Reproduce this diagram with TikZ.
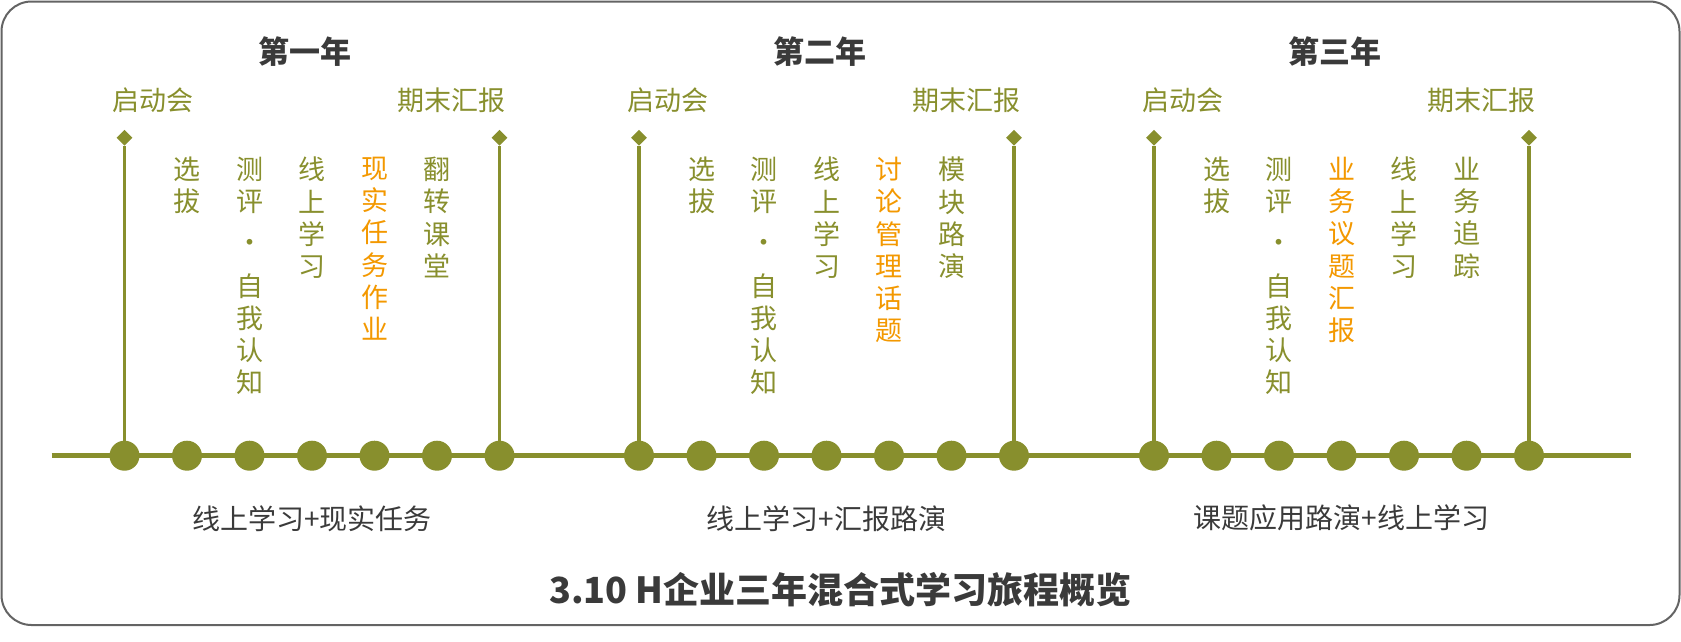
\documentclass[tikz,border=0pt]{standalone}
\usepackage{fontspec}
\setmainfont{Noto Sans CJK SC}
\usepackage{tikz}
\usetikzlibrary{shapes.geometric}
\definecolor{olive1}{RGB}{136,143,45}
\definecolor{orange1}{RGB}{243,152,0}
\definecolor{gray1}{RGB}{58,58,58}
\definecolor{gray2}{RGB}{100,100,100}
\tikzset{
  dot/.style={circle, fill=olive1, inner sep=0pt, minimum size=30pt},
  diam/.style={diamond, fill=olive1, inner sep=0pt, minimum size=16pt},
  stem/.style={olive1, line width=3.5pt},
  milestone/.style={text=olive1, inner sep=0pt, font=\fontsize{27}{32}\selectfont},
  item/.style={text=olive1, align=center, anchor=north, inner sep=0pt, font=\fontsize{27}{32.2}\selectfont},
  task/.style={item, text=orange1},
  year/.style={text=gray1, inner sep=0pt, font=\bfseries\fontsize{31}{36}\selectfont},
  phase/.style={text=gray1, inner sep=0pt, font=\fontsize{28}{32}\selectfont},
  headline/.style={text=gray1, inner sep=0pt, font=\bfseries\fontsize{36}{40}\selectfont}
}
\begin{document}
\begin{tikzpicture}[x=1pt, y=-1pt]
\useasboundingbox (0,0) rectangle (1681,641);
\draw[gray2, line width=2pt, rounded corners=30pt] (1.5,1.5) rectangle (1679.5,625);
% timeline
\coordinate (lineL) at (51.5,455.7);
\coordinate (lineR) at (1630.7,455.7);
\draw[olive1, line width=5pt] (lineL) -- (lineR);
\foreach \n/\x in {1/124.5, 2/639, 3/1154}
{
\foreach \i in {0,...,6}
  \node[dot] (p\n\i) at (\x+62.5*\i,455.7) {};
\node[diam] (ta\n) at (\x,137.7) {};
\node[diam] (tb\n) at (\x+375,137.7) {};
\draw[stem] (ta\n) -- (p\n0);
\draw[stem] (tb\n) -- (p\n6);
\node[milestone] (k\n) at (\x+28.5,100) {启动会};
\node[milestone] (r\n) at (\x+327,100) {期末汇报};
}
% years
\node[year] (y1) at (305,51.7) {第一年};
\node[year] (y2) at (819.5,51.7) {第二年};
\node[year] (y3) at (1334.5,51.7) {第三年};
% first year
\node[item] (c11) at (187,157) {选\\拔};
\node[item] (c12) at (249.5,157) {测\\评\\[9pt]·\\[11pt]自\\我\\认\\知};
\node[item] (c13) at (312,157) {线\\上\\学\\习};
\node[task] (c14) at (374.5,157) {现\\实\\任\\务\\作\\业};
\node[item] (c15) at (437,157) {翻\\转\\课\\堂};
% second year
\node[item] (c21) at (701.5,157) {选\\拔};
\node[item] (c22) at (764,157) {测\\评\\[9pt]·\\[11pt]自\\我\\认\\知};
\node[item] (c23) at (826.5,157) {线\\上\\学\\习};
\node[task] (c24) at (889,157) {讨\\论\\管\\理\\话\\题};
\node[item] (c25) at (951.5,157) {模\\块\\路\\演};
% third year
\node[item] (c31) at (1216.5,157) {选\\拔};
\node[item] (c32) at (1279,157) {测\\评\\[9pt]·\\[11pt]自\\我\\认\\知};
\node[task] (c33) at (1341.5,157) {业\\务\\议\\题\\汇\\报};
\node[item] (c34) at (1404,157) {线\\上\\学\\习};
\node[item] (c35) at (1466.5,157) {业\\务\\追\\踪};
% phases
\node[phase] (ph1) at (312,518.3) {线上学习+现实任务};
\node[phase] (ph2) at (826.5,518.3) {线上学习+汇报路演};
\node[phase] (ph3) at (1341.5,518.3) {课题应用路演+线上学习};
\node[headline] (cap) at (840.5,590) {3.10 H企业三年混合式学习旅程概览};
\end{tikzpicture}
\end{document}
